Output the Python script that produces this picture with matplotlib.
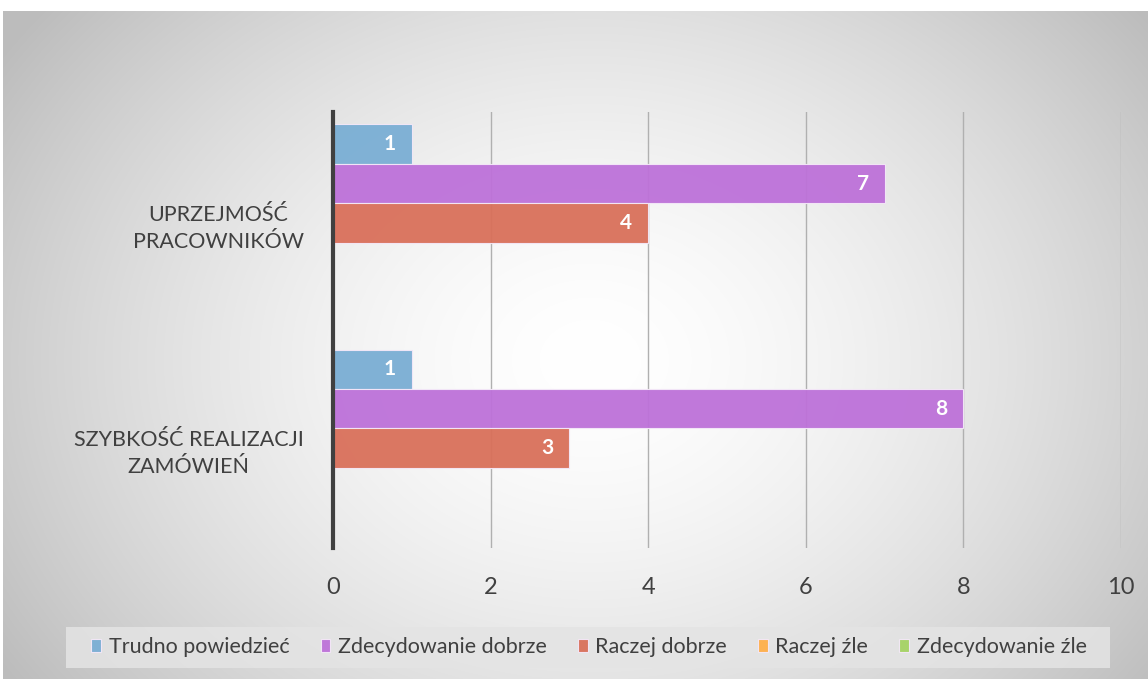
import matplotlib.pyplot as plt
from matplotlib.patches import Rectangle
import numpy as np

categories = ["SZYBKOŚĆ REALIZACJI\nZAMÓWIEŃ", "UPRZEJMOŚĆ\nPRACOWNIKÓW"]
series = ["Trudno powiedzieć", "Zdecydowanie dobrze", "Raczej dobrze", "Raczej źle", "Zdecydowanie źle"]
values = [
    [1, 1],   # Trudno powiedzieć
    [8, 7],   # Zdecydowanie dobrze
    [3, 4],   # Raczej dobrze
    [0, 0],   # Raczej źle
    [0, 0],   # Zdecydowanie źle
]
colors = ["#7aaed4", "#bd71d9", "#d9705a", "#ffb04a", "#a5d364"]

plt.rcParams['font.family'] = ['Lato', 'DejaVu Sans']

fig = plt.figure(figsize=(11.48, 6.79), dpi=100)
W, H = 1148, 679

# radial gradient background
bg = fig.add_axes([0, 0, 1, 1], zorder=-10)
xx, yy = np.meshgrid(np.arange(W), np.arange(H))
cx, cy = 590, 360
r = np.sqrt(((xx - cx) / 700.0) ** 2 + ((yy - cy) / 560.0) ** 2)
shade = 1.0 - 0.26 * np.clip(r, 0, 1) ** 1.6
img = np.dstack([shade, shade, shade])
img[:11, :, :] = 1.0
img[:, :3, :] = 1.0
bg.imshow(img, aspect='auto', extent=[0, W, H, 0], interpolation='bilinear')
bg.set_xlim(0, W)
bg.set_ylim(H, 0)
bg.axis('off')
# legend background box
bg.add_patch(Rectangle((66, 627), 1044, 41, facecolor='#e4e4e4', edgecolor='none', alpha=0.85))

ax = fig.add_axes([333 / W, 1 - 548 / H, (1121 - 333) / W, (548 - 112) / H])
ax.patch.set_alpha(0)

y = np.arange(len(categories))
h = 0.175
n = len(series)
for i, (name, vals, c) in enumerate(zip(series, values, colors)):
    pos = y + (n - 1) / 2 * h - i * h
    bars = ax.barh(pos, vals, height=h, color=c, alpha=0.95, edgecolor='#f4e8f8',
                   linewidth=0.8, label=name, zorder=3)
    for b, v in zip(bars, vals):
        if v > 0:
            ax.text(v - 0.2, b.get_y() + b.get_height() / 2, str(v), color='white',
                    fontsize=15, fontweight='bold', ha='right', va='center', zorder=4)

ax.set_xlim(0, 10)
ax.set_ylim(-0.444, 1.493)
ax.set_xticks(range(0, 11, 2))
ax.set_yticks(y)
ax.set_yticklabels(categories, fontsize=15.5, color='#404040', multialignment='center',
                   linespacing=1.45)
ax.tick_params(axis='x', length=0, labelsize=17, labelcolor='#404040', pad=21)
ax.tick_params(axis='y', length=0, pad=21)
ax.grid(axis='x', color='#b0b0b0', linewidth=1, zorder=1)
for s in ['top', 'right', 'bottom']:
    ax.spines[s].set_visible(False)
ax.spines['left'].set_linewidth(3)
ax.spines['left'].set_color('#404040')
ax.spines['left'].set_zorder(5)

leg = fig.legend(loc='center', bbox_to_anchor=(589 / W, 1 - 647 / H), ncol=5, frameon=False,
                 fontsize=15.5, handlelength=0.45, handleheight=0.6, handletextpad=0.35,
                 columnspacing=1.45)
for t in leg.get_texts():
    t.set_color('#404040')

fig.savefig('out.png', dpi=100)
